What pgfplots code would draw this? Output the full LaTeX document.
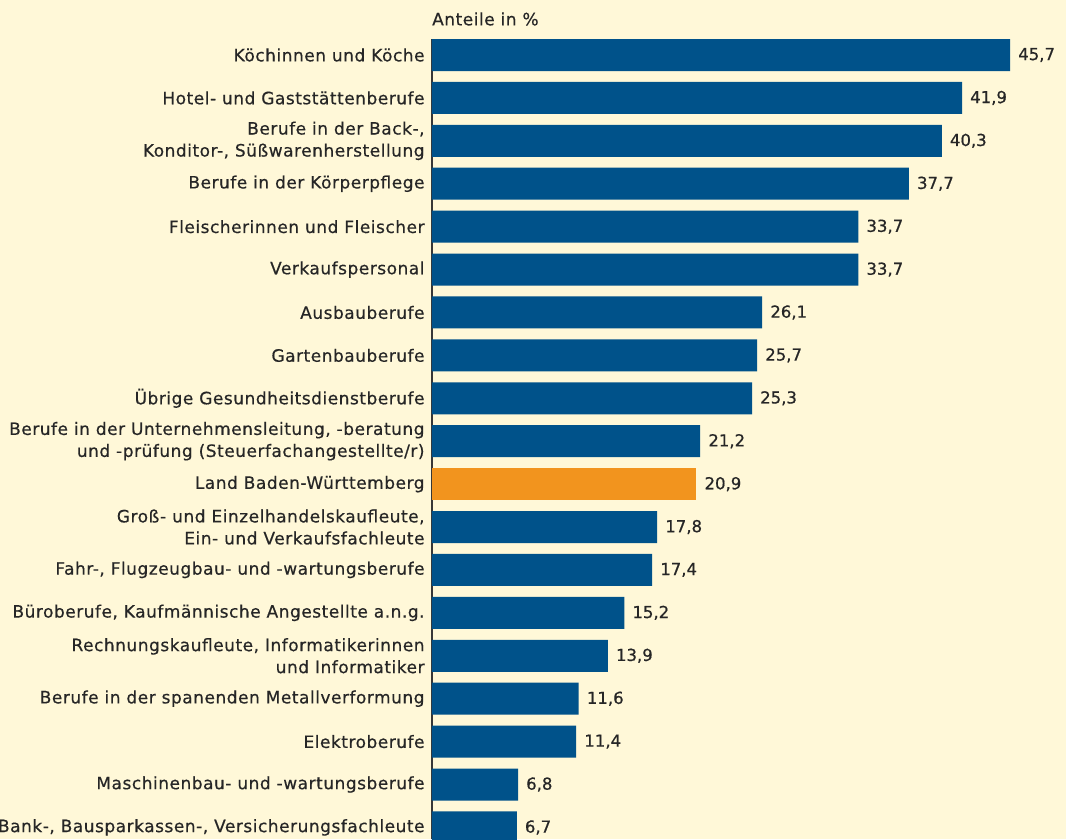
\documentclass[border=0pt]{standalone}
\usepackage{pgfplots}
\pgfplotsset{compat=1.18}
\usepackage{fontspec}
\setmainfont{DejaVu Sans}
\newfontfamily\labfont{DejaVu Sans}[FakeBold=0.5, LetterSpace=3.0]
\newfontfamily\numfont{DejaVu Sans}[FakeBold=0.7]
\definecolor{bg}{RGB}{255,248,216}
\definecolor{barblue}{RGB}{0,82,138}
\definecolor{barorange}{RGB}{242,148,30}
\definecolor{axisgray}{RGB}{55,55,55}
\newcommand{\lf}{\labfont\fontsize{17}{22}\selectfont}
\newcommand{\nf}{\numfont\fontsize{16.5}{22}\selectfont}
\begin{document}
\begin{tikzpicture}[x=1pt,y=1pt]
\fill[bg] (0,0) rectangle (1066,839);
\useasboundingbox (0,0) rectangle (1066,839);
\node[anchor=west, inner sep=0pt, text=black!85] at (432,820) {\lf Anteile in \%};
\begin{axis}[
  at={(432pt,800pt)}, anchor=north west,
  scale only axis, width=634pt, height=800pt,
  xmin=0, xmax=50.12, ymin=-0.373, ymax=18.27,
  y dir=reverse,
  xbar, bar width=32pt, bar shift=0pt,
  axis x line=none,
  axis y line*=left,
  y axis line style={axisgray, line width=1.6pt},
  ytick={0,...,18},
  ytick style={draw=none},
  yticklabel style={align=right, font=\lf, text=black!85, inner sep=0pt, xshift=-3pt},
  yticklabels={
    {Köchinnen und Köche},
    {Hotel- und Gaststättenberufe},
    {Berufe in der Back-,\\Konditor-, Süßwarenherstellung},
    {Berufe in der Körperpflege},
    {Fleischerinnen und Fleischer},
    {Verkaufspersonal},
    {Ausbauberufe},
    {Gartenbauberufe},
    {Übrige Gesundheitsdienstberufe},
    {Berufe in der Unternehmensleitung, -beratung\\und -prüfung (Steuerfachangestellte/r)},
    {Land Baden-Württemberg},
    {Groß- und Einzelhandelskaufleute,\\Ein- und Verkaufsfachleute},
    {Fahr-, Flugzeugbau- und -wartungsberufe},
    {Büroberufe, Kaufmännische Angestellte a.n.g.},
    {Rechnungskaufleute, Informatikerinnen\\und Informatiker},
    {Berufe in der spanenden Metallverformung},
    {Elektroberufe},
    {Maschinenbau- und -wartungsberufe},
    {Bank-, Bausparkassen-, Versicherungsfachleute}
  },
  clip=false,
  point meta=x,
  nodes near coords,
  nodes near coords style={font=\nf, text=black!85, anchor=west, inner sep=0pt, xshift=8pt},
  /pgf/number format/.cd, fixed, fixed zerofill, precision=1, use comma, assume math mode=true,
]
\addplot[fill=barblue, draw=none] coordinates {
  (45.7,0) (41.9,1) (40.3,2) (37.7,3) (33.7,4) (33.7,5) (26.1,6) (25.7,7) (25.3,8) (21.2,9)
  (17.8,11) (17.4,12) (15.2,13) (13.9,14) (11.6,15) (11.4,16) (6.8,17) (6.7,18)
};
\addplot[fill=barorange, draw=none] coordinates {(20.9,10)};
\end{axis}
\end{tikzpicture}
\end{document}
